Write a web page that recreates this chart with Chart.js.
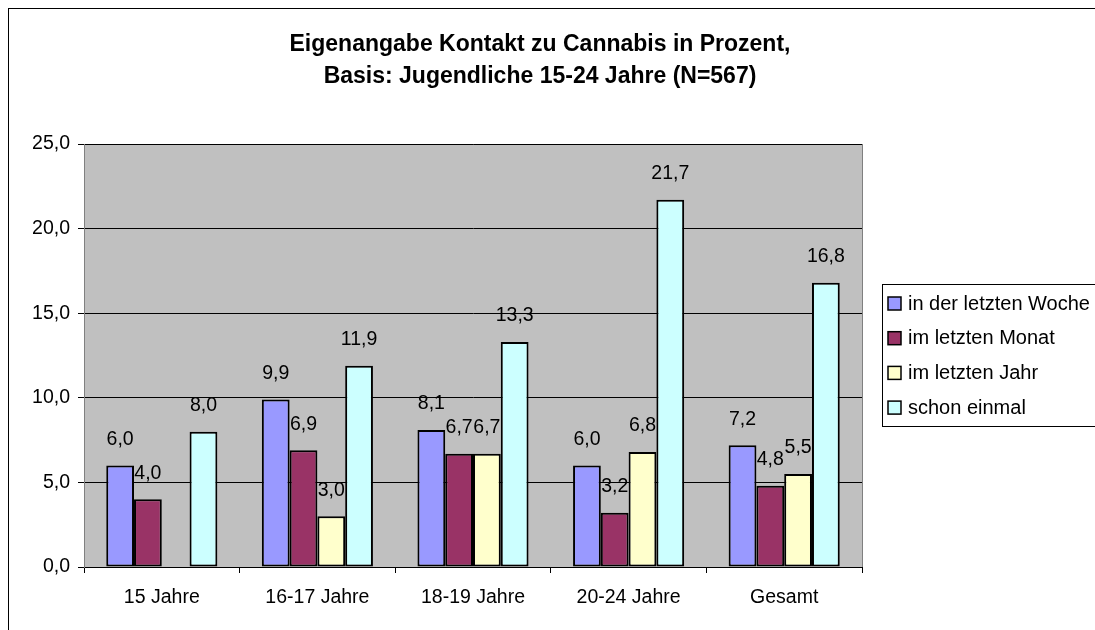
<!DOCTYPE html>
<html>
<head>
<meta charset="utf-8">
<script src="https://cdn.jsdelivr.net/npm/chart.js@4/dist/chart.umd.min.js"></script>
<style>
  html, body { margin: 0; padding: 0; background: #fff; }
  #wrap { width: 1095px; height: 630px; }
</style>
</head>
<body>
<div id="wrap"><canvas id="cannabisChart" width="1095" height="630"></canvas></div>
<script>
const categories = ['15 Jahre', '16-17 Jahre', '18-19 Jahre', '20-24 Jahre', 'Gesamt'];
const letzteWoche = [6.0, 9.9, 8.1, 6.0, 7.2];
const letzterMonat = [4.0, 6.9, 6.7, 3.2, 4.8];
const letztesJahr = [null, 3.0, 6.7, 6.8, 5.5];
const schonEinmal = [8.0, 11.9, 13.3, 21.7, 16.8];
const seriesNames = ['in der letzten Woche', 'im letzten Monat', 'im letzten Jahr', 'schon einmal'];
const seriesColors = ['#9999FF', '#993366', '#FFFFCC', '#CCFFFF'];
const yTicks = [0, 5, 10, 15, 20, 25];
const titleLines = ['Eigenangabe Kontakt zu Cannabis in Prozent,', 'Basis: Jugendliche 15-24 Jahre (N=567)'];

const FONT = '"Liberation Sans", Arial, sans-serif';
const fmt = v => v.toFixed(1).replace('.', ',');

// grey plot area, outer frame and the title (centred on the whole picture)
const backdrop = {
    id: 'backdrop',
    beforeDraw(chart) {
        const c = chart.ctx, a = chart.chartArea;
        c.save();
        c.strokeStyle = '#000';
        c.lineWidth = 1;
        c.strokeRect(8.5, 8.5, 1100, 700);
        c.fillStyle = '#C0C0C0';
        c.fillRect(a.left, a.top, a.right - a.left, a.bottom - a.top);
        c.strokeStyle = '#808080';
        c.strokeRect(a.left + 0.5, a.top + 0.5, a.right - a.left, a.bottom - a.top);
        c.fillStyle = '#000';
        c.font = 'bold 23px ' + FONT;
        c.textAlign = 'center';
        c.textBaseline = 'middle';
        titleLines.forEach((t, i) => c.fillText(t, 540, 45 + i * 32));
        c.restore();
    }
};

// value labels above the bars
const valueLabels = {
    id: 'valueLabels',
    afterDatasetsDraw(chart) {
        const c = chart.ctx;
        c.save();
        c.font = '19.5px ' + FONT;
        c.fillStyle = '#000';
        c.textAlign = 'center';
        c.textBaseline = 'middle';
        chart.data.datasets.forEach((ds, i) => {
            chart.getDatasetMeta(i).data.forEach((bar, j) => {
                const v = ds.data[j];
                if (v === null || v === undefined) return;
                c.fillText(fmt(v), bar.x, bar.y - 26);
            });
        });
        c.restore();
    }
};

// framed legend on the right
const boxLegend = {
    id: 'boxLegend',
    afterDraw(chart) {
        const c = chart.ctx;
        const left = 882, top = 284, rowH = 34.7;
        c.save();
        c.fillStyle = '#fff';
        c.fillRect(left, top, 220, 142);
        c.strokeStyle = '#000';
        c.lineWidth = 1;
        c.strokeRect(left + 0.5, top + 0.5, 220, 142);
        c.font = '20px ' + FONT;
        c.textBaseline = 'middle';
        chart.data.datasets.forEach((ds, i) => {
            const cy = top + 19 + i * rowH;
            c.fillStyle = ds.backgroundColor;
            c.fillRect(888, cy - 6, 13, 13);
            c.strokeStyle = '#000';
            c.lineWidth = 1.5;
            c.strokeRect(888, cy - 6, 13, 13);
            c.fillStyle = '#000';
            c.fillText(ds.label, 908, cy + 1);
        });
        c.restore();
    }
};

const series = [letzteWoche, letzterMonat, letztesJahr, schonEinmal];

new Chart(document.getElementById('cannabisChart'), {
    type: 'bar',
    data: {
        labels: categories,
        datasets: series.map((d, i) => ({
            label: seriesNames[i],
            data: d,
            backgroundColor: seriesColors[i],
            borderColor: '#000',
            borderWidth: 2,
            borderSkipped: false,
            categoryPercentage: 0.714,
            barPercentage: 1.0
        }))
    },
    options: {
        responsive: false,
        animation: false,
        devicePixelRatio: 1,
        layout: { padding: { left: 0, top: 144, right: 233, bottom: 0 } },
        plugins: {
            legend: { display: false },
            tooltip: { enabled: false },
            title: { display: false }
        },
        scales: {
            x: {
                grid: { display: true, drawOnChartArea: false, offset: true, color: '#000', tickLength: 6 },
                border: { color: '#000' },
                ticks: { color: '#000', font: { family: FONT, size: 19.5 }, padding: 13, maxRotation: 0 },
                afterFit(s) { s.height = 63; }
            },
            y: {
                min: 0,
                max: 25,
                afterBuildTicks(s) { s.ticks = yTicks.map(v => ({ value: v })); },
                grid: { color: '#000', tickLength: 6 },
                border: { color: '#808080' },
                ticks: { color: '#000', font: { family: FONT, size: 19.5 }, padding: 8, callback: v => fmt(v) },
                afterFit(s) { s.width = 84; }
            }
        }
    },
    plugins: [backdrop, valueLabels, boxLegend]
});
</script>
</body>
</html>
